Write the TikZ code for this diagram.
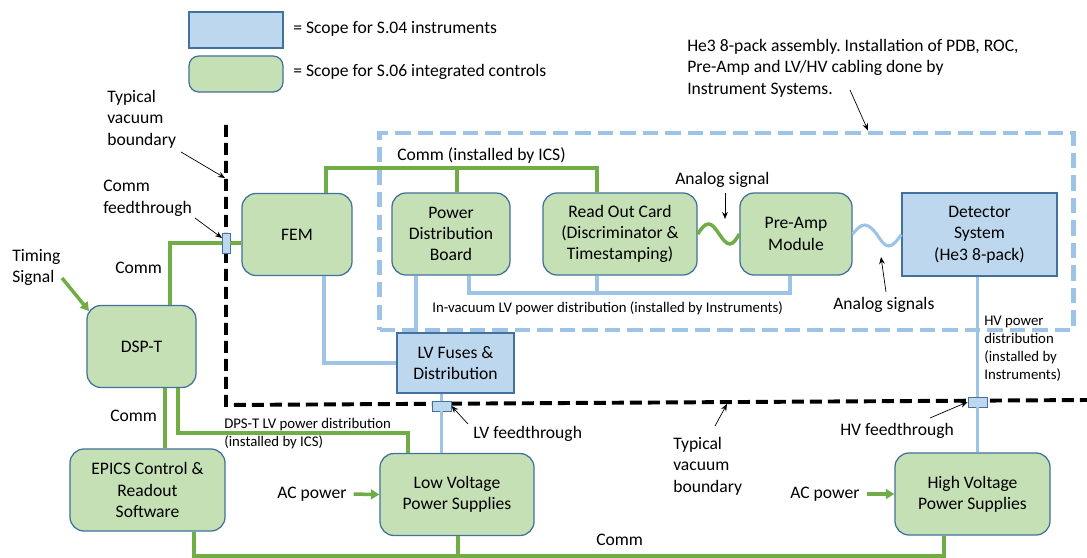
\documentclass[tikz,border=0pt]{standalone}
\usepackage{fontspec}
\setmainfont{Carlito}
\usetikzlibrary{arrows.meta, positioning, calc}
\definecolor{ctrlgreen}{HTML}{C5E0B4}
\definecolor{instrblue}{HTML}{BDD7EE}
\definecolor{bordblue}{HTML}{41719C}
\definecolor{commgreen}{HTML}{70AD47}
\definecolor{powblue}{HTML}{9DC3E6}
\frenchspacing

\begin{document}
\begin{tikzpicture}[x=0.025cm, y=-0.025cm, font=\fontsize{12.5}{15.2}\selectfont,
    ctrl/.style={rectangle, rounded corners=10pt, draw=bordblue, line width=0.9pt, fill=ctrlgreen, minimum height=2.05cm, align=center, inner sep=0pt},
    instr/.style={rectangle, draw=bordblue, line width=0.9pt, fill=instrblue, align=center, inner sep=0pt},
    feedthru/.style={rectangle, draw=bordblue, line width=0.7pt, fill=instrblue, inner sep=0pt},
    txt/.style={inner sep=0pt, align=left},
    smalltxt/.style={inner sep=0pt, align=left, font=\fontsize{10.5}{12.8}\selectfont},
    comm/.style={draw=commgreen, line width=2.5pt},
    power/.style={draw=powblue, line width=2.2pt},
    callout/.style={-{Stealth[length=5pt, width=4pt]}, line width=0.5pt},
    feed/.style={-{Triangle[length=6pt, width=7pt]}, draw=commgreen, line width=2.5pt},
    boundary/.style={line width=2.8pt, dash pattern=on 8.5pt off 4.3pt},
    assembly/.style={rectangle, draw=powblue, line width=3.5pt, dash pattern=on 11pt off 5pt, inner sep=0pt}
]
\useasboundingbox (0,0) rectangle (1087,558);

% Legend
\node[instr, minimum width=2.35cm, minimum height=0.9cm] (keyinstr) at (236,30) {};
\node[ctrl, minimum width=2.35cm, minimum height=0.9cm, rounded corners=7pt] (keyctrl) at (236,74) {};
\node[txt, anchor=west] (key04) at (293,29) {= Scope for S.04 instruments};
\node[txt, anchor=west] (key06) at (293,72) {= Scope for S.06 integrated controls};

% He3 8-pack assembly and vacuum boundary
\node[assembly, minimum width=17.325cm, minimum height=4.925cm] (assy) at (726.5,231.5) {};
\draw[boundary] (226,125) -- (226,405) -- (1087,400);

% Feedthroughs
\node[feedthru, minimum width=0.2cm, minimum height=0.5cm] (commft) at (226,243) {};
\node[feedthru, minimum width=0.475cm, minimum height=0.25cm] (lvft) at (441.5,406) {};
\node[feedthru, minimum width=0.475cm, minimum height=0.25cm] (hvft) at (977.5,402) {};

% Boxes
\node[ctrl, minimum width=2.75cm] (fem) at (297,234.5) {FEM};
\node[ctrl, minimum width=2.95cm] (pdb) at (451,234) {Power\\Distribution\\Board};
\node[ctrl, minimum width=3.85cm] (roc) at (620,234) {Read Out Card\\(Discriminator \&\\Timestamping)};
\node[ctrl, minimum width=2.8cm] (preamp) at (796,234) {Pre-Amp\\Module};
\node[instr, minimum width=3.875cm, minimum height=2.075cm] (det) at (979.5,234.5) {Detector\\System\\(He3 8-pack)};
\node[ctrl, minimum width=2.725cm] (dspt) at (141.5,346.5) {DSP-T};
\node[instr, minimum width=2.925cm, minimum height=1.5cm] (lvfuse) at (455.5,363) {LV Fuses \&\\Distribution};
\node[ctrl, minimum width=3.875cm] (epics) at (147.5,490) {EPICS Control \&\\Readout\\Software};
\node[ctrl, minimum width=3.85cm] (lvps) at (457,494.5) {Low Voltage\\Power Supplies};
\node[ctrl, minimum width=3.875cm] (hvps) at (972.5,494) {High Voltage\\Power Supplies};

% Comm lines
\draw[comm] (170,0 |- dspt.north) |- (commft.west);
\draw[comm] (commft.east) -- (fem.west |- commft.east);
\draw[comm] (326,0 |- fem.north) |- (597,168) -- (597,0 |- roc.north);
\draw[comm] (457,168) -- (457,0 |- pdb.north);
\draw[comm] (165,0 |- dspt.south) -- (165,0 |- epics.north);
\draw[comm] (178,0 |- dspt.south) |- (408,433) -- (408,0 |- lvps.north);
\draw[comm] (194,0 |- epics.south) |- (944,556) -- (944,0 |- hvps.south);
\draw[comm] (458,556) -- (458,0 |- lvps.south);
\draw[comm] (roc.east) sin ++(10.75,-10) cos ++(10.75,10) sin ++(10.75,10) cos (preamp.west);

% Power lines
\draw[power] (324,0 |- fem.south) |- (lvfuse.west);
\draw[power] (416,0 |- pdb.south) -- (416,0 |- lvfuse.north);
\draw[power] (469,0 |- pdb.south) |- (790,293) -- (790,0 |- preamp.south);
\draw[power] (597,293) -- (597,0 |- roc.south);
\draw[power] (lvft.north |- lvfuse.south) -- (lvft.north);
\draw[power] (lvft.south) -- (lvft.south |- lvps.north);
\draw[power] (hvft.north |- det.south) -- (hvft.north);
\draw[power] (hvft.south) -- (hvft.south |- hvps.north);
\draw[power] (preamp.east) sin ++(12,-9) cos ++(12,9) sin ++(12,12) cos (det.west);

% Inputs
\node[txt] (timing) [anchor=north west] at (12,249) {Timing\\Signal};
\coordinate (timingstart) at (62,278);
\draw[feed] (timingstart) -- (89,311);
\node[txt, anchor=west] (aclv) at (277,494) {AC power};
\node[txt, anchor=west] (achv) at (790,494) {AC power};
\draw[feed, shorten <=5pt] (aclv.east) -- (lvps.west);
\draw[feed, shorten <=5pt] (achv.east) -- (hvps.west);

% Labels
\node[txt, anchor=north west] (vbtop) at (107,90) {Typical\\vacuum\\boundary};
\node[txt, anchor=north west] (cfnote) at (103,180) {Comm\\feedthrough};
\node[txt, anchor=west] (commdsp) at (115,268) {Comm};
\node[txt, anchor=west] (commics) at (397,155) {Comm (installed by ICS)};
\node[txt, anchor=west] (analog) at (675,180) {Analog signal};
\node[txt, anchor=north west] (he3note) at (687,39) {He3 8-pack assembly. Installation of PDB, ROC,\\Pre-Amp and LV/HV cabling done by\\Instrument Systems.};
\node[txt, anchor=west] (analogs) at (833,305) {Analog signals};
\node[smalltxt, anchor=west] (invac) at (432,308) {In-vacuum LV power distribution (installed by Instruments)};
\node[smalltxt, anchor=north west] (hvnote) at (984,316) {HV power\\distribution\\(installed by\\Instruments)};
\node[smalltxt, anchor=north west] (dspnote) at (224,418) {DPS-T LV power distribution\\(installed by ICS)};
\node[txt, anchor=west] (commepics) at (110,416) {Comm};
\node[txt, anchor=west] (lvftnote) at (473,434) {LV feedthrough};
\node[txt, anchor=north west] (vbbot) at (673,437) {Typical\\vacuum\\boundary};
\node[txt, anchor=west] (hvftnote) at (840,431) {HV feedthrough};
\node[txt, anchor=west] (commbot) at (596,540) {Comm};

% Callouts
\coordinate (vbtoptip) at (225,178);
\coordinate (vbbottip) at (727,404);
\draw[callout] (181,152) -- (vbtoptip);
\draw[callout] (195,218) -- (222,238);
\draw[callout] (725,193) -- (725,219);
\draw[callout] (850,90) -- (868,0 |- assy.north);
\draw[callout] (886,292) -- (881,257);
\draw[callout] (468,424) -- (lvft.east);
\draw[callout] (715,426) -- (vbbottip);
\draw[callout] (930,418) -- (hvft.west);
\end{tikzpicture}
\end{document}
